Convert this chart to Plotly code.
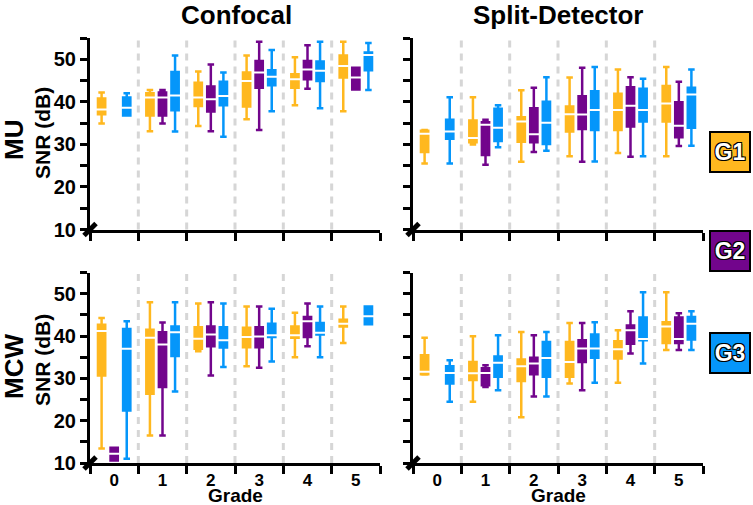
import plotly.graph_objects as go
from plotly.subplots import make_subplots

# grades on the x axis and the group names
grades = [0, 1, 2, 3, 4, 5]
groups = ["G1", "G2", "G3"]
group_colors = ["#FFB81F", "#72058C", "#0596FA"]

# box stats per grade: [lower whisker, q1, median, q3, upper whisker], None = no data
conf_mu_g1 = [[34.9, 37.1, 38.2, 40.8, 42.2], [33.1, 36.8, 41.0, 42.0, 42.8], [34.3, 39.0, 41.0, 44.5, 47.1],
              [35.9, 38.9, 44.9, 46.9, 50.9], [39.2, 43.3, 45.3, 46.5, 50.5], [37.8, 45.7, 48.4, 50.9, 54.1]]
conf_mu_g2 = [None, [34.9, 36.8, 41.0, 42.2, 42.8], [33.1, 37.7, 40.6, 43.6, 48.8],
              [33.4, 43.3, 46.9, 49.6, 54.1], [43.1, 45.3, 47.6, 49.6, 53.3], [42.9, 42.9, 45.7, 48.0, 48.0]]
conf_mu_g3 = [[36.8, 36.8, 38.6, 41.0, 42.0], [33.0, 38.0, 41.5, 47.0, 50.9], [31.8, 39.2, 41.4, 44.7, 46.9],
              [37.8, 43.9, 45.9, 47.4, 52.2], [38.5, 44.9, 47.3, 49.5, 54.1], [42.8, 47.4, 51.0, 51.6, 53.8]]

split_mu_g1 = [[25.5, 28.2, 32.5, 33.2, 33.4], [30.0, 30.5, 31.5, 35.6, 41.1], [25.9, 30.6, 35.4, 36.4, 42.7],
               [27.2, 33.0, 37.1, 38.9, 45.7], [28.0, 33.4, 38.1, 41.9, 47.6], [27.2, 35.4, 39.6, 43.7, 48.2]]
split_mu_g2 = [None, [25.2, 27.5, 34.6, 35.2, 35.8], [28.2, 30.5, 32.4, 38.5, 43.3],
               [25.9, 33.6, 37.0, 41.3, 48.0], [27.1, 34.2, 39.1, 43.4, 45.8], [29.6, 31.7, 34.4, 39.9, 44.7]]
split_mu_g3 = [[25.5, 31.3, 33.0, 35.8, 41.1], [29.3, 30.8, 33.9, 38.4, 39.2], [28.5, 30.1, 35.1, 40.0, 45.8],
               [26.0, 33.4, 38.1, 42.5, 48.2], [27.2, 35.4, 38.1, 43.1, 45.4], [29.7, 33.9, 41.7, 43.3, 47.6]]

conf_mcw_g1 = [[13.4, 30.7, 41.2, 42.7, 44.3], [16.5, 26.4, 39.6, 41.5, 48.0], [36.4, 37.0, 39.4, 42.1, 47.7],
               [32.9, 37.4, 39.8, 42.0, 47.0], [35.0, 39.6, 40.2, 42.3, 45.5], [38.4, 42.3, 42.9, 43.9, 47.0]]
conf_mcw_g2 = [[10.6, 10.6, 12.2, 13.6, 13.6], [16.5, 28.0, 38.0, 40.9, 43.2], [30.7, 37.6, 40.4, 42.3, 48.0],
               [32.5, 37.4, 39.9, 42.1, 47.0], [37.6, 39.8, 43.5, 44.5, 47.7], None]
conf_mcw_g3 = [[11.0, 22.4, 37.0, 41.7, 43.5], [26.9, 35.3, 40.9, 42.3, 48.0], [32.7, 37.3, 39.0, 42.1, 47.7],
               [34.0, 39.8, 40.2, 42.9, 46.5], [35.0, 40.4, 40.8, 43.1, 47.0], [42.8, 42.8, 44.7, 47.0, 47.0]]

split_mcw_g1 = [[30.9, 31.0, 31.6, 35.5, 39.6], [24.5, 29.6, 31.2, 33.9, 40.0], [20.8, 29.4, 32.9, 34.5, 41.0],
                [28.8, 30.4, 33.9, 38.6, 43.1], [29.0, 34.7, 36.9, 38.8, 41.4], [36.7, 38.4, 42.3, 43.3, 50.4]]
split_mcw_g2 = [None, [28.0, 28.4, 31.3, 32.4, 33.1], [25.7, 31.0, 33.5, 34.9, 40.2],
                [27.2, 33.9, 37.1, 39.0, 43.1], [35.9, 38.2, 41.4, 42.5, 45.9], [36.7, 38.4, 39.3, 44.4, 45.4]]
split_mcw_g3 = [[24.5, 28.8, 31.3, 32.9, 34.3], [27.2, 30.4, 33.7, 35.2, 40.2], [25.7, 30.4, 34.8, 38.6, 41.0],
                [29.0, 34.9, 37.1, 40.4, 43.3], [33.5, 39.0, 39.3, 44.4, 50.4], [36.7, 39.2, 42.9, 44.5, 45.9]]

panels = {
    (1, 1): [conf_mu_g1, conf_mu_g2, conf_mu_g3],
    (1, 2): [split_mu_g1, split_mu_g2, split_mu_g3],
    (2, 1): [conf_mcw_g1, conf_mcw_g2, conf_mcw_g3],
    (2, 2): [split_mcw_g1, split_mcw_g2, split_mcw_g3],
}

group_offsets = [-0.26, 0.0, 0.26]
separators = [0.5, 1.5, 2.5, 3.5, 4.5]
boundaries = [-0.5, 0.5, 1.5, 2.5, 3.5, 4.5, 5.5]
y_range = [10, 55]
FONT = "Liberation Sans, Arial, sans-serif"

fig = make_subplots(rows=2, cols=2)

for (row, col), series in panels.items():
    for gi, stats in enumerate(series):
        xs, lo, q1, med, q3, hi = [], [], [], [], [], []
        for g, s in zip(grades, stats):
            if s is None:
                continue
            xs.append(g + group_offsets[gi])
            lo.append(s[0]); q1.append(s[1]); med.append(s[2]); q3.append(s[3]); hi.append(s[4])
        color = group_colors[gi]
        fig.add_trace(
            go.Box(
                x=xs, lowerfence=lo, q1=q1, median=med, q3=q3, upperfence=hi,
                width=0.15, whiskerwidth=0.9,
                line=dict(color=color, width=2.5), fillcolor=color,
                boxpoints=False, showlegend=False, name=groups[gi],
            ),
            row=row, col=col,
        )
        # white median stripe
        fig.add_trace(
            go.Scatter(
                x=xs, y=med, mode="markers", showlegend=False, hoverinfo="skip",
                marker=dict(symbol="line-ew", size=10, color="white",
                            line=dict(color="white", width=2)),
            ),
            row=row, col=col,
        )
    # axis break mark at the origin
    fig.add_trace(
        go.Scatter(
            x=[boundaries[0]], y=[y_range[0]], mode="markers", showlegend=False,
            hoverinfo="skip", cliponaxis=False,
            marker=dict(symbol="line-ne", size=12, line=dict(color="black", width=5)),
        ),
        row=row, col=col,
    )
    for s in separators:
        fig.add_vline(x=s, row=row, col=col, layer="below",
                      line=dict(color="#D6D6D6", width=3, dash="7px,6px"))

W, H = 753, 505
x_dom = [[90 / W, 380 / W], [413 / W, 703 / W]]
y_dom = {1: [1 - 229.5 / H, 1 - 38 / H], 2: [1 - 463 / H, 1 - 272.7 / H]}

ytick_vals = [10, 15, 20, 25, 30, 35, 40, 45, 50, 55]
ytick_text = [str(v) if v % 10 == 0 and v < 55 else "" for v in ytick_vals]

for row in (1, 2):
    for col in (1, 2):
        fig.update_xaxes(
            row=row, col=col, domain=x_dom[col - 1], range=[-0.5, 5.5], automargin=False,
            showline=True, linecolor="black", linewidth=3, showgrid=False, zeroline=False,
            tickmode="array", tickvals=grades, ticktext=[str(g) for g in grades],
            ticks="", showticklabels=(row == 2), ticklabelstandoff=0,
            tickfont=dict(family=FONT, size=17, color="black", weight="bold"),
            minor=dict(tickmode="array", tickvals=boundaries, ticks="outside",
                       ticklen=8, tickwidth=3, tickcolor="black", showgrid=False),
        )
        fig.update_yaxes(
            row=row, col=col, domain=y_dom[row], range=y_range, automargin=False,
            showline=True, linecolor="black", linewidth=3, showgrid=False, zeroline=False,
            tickmode="array", tickvals=ytick_vals, ticktext=ytick_text,
            ticks="outside", ticklen=7, tickwidth=3, tickcolor="black",
            showticklabels=(col == 1),
            tickfont=dict(family=FONT, size=20, color="black", weight="bold"),
        )

annotations = [
    dict(text="Confocal", x=236 / W, y=1 - 15 / H, font=dict(size=26)),
    dict(text="Split-Detector", x=558 / W, y=1 - 15 / H, font=dict(size=26)),
    dict(text="MU", x=14 / W, y=1 - 140 / H, textangle=-90, font=dict(size=26)),
    dict(text="SNR (dB)", x=42 / W, y=1 - 133 / H, textangle=-90, font=dict(size=21)),
    dict(text="MCW", x=14 / W, y=1 - 367 / H, textangle=-90, font=dict(size=26)),
    dict(text="SNR (dB)", x=42 / W, y=1 - 360 / H, textangle=-90, font=dict(size=21)),
]
for a in annotations:
    a.update(xref="paper", yref="paper", showarrow=False, xanchor="center", yanchor="middle")
    a["font"].update(family=FONT, color="black", weight="bold")
    fig.add_annotation(**a)

# x axis titles sit right at the bottom edge
for xc in (235, 558):
    fig.add_annotation(
        text="Grade", x=xc / W, y=0, xref="paper", yref="paper", showarrow=False,
        xanchor="center", yanchor="bottom", borderpad=0, yshift=-2,
        font=dict(family=FONT, size=19, color="black", weight="bold"),
    )

# group key boxes on the right
outline = "-1px -1px 0 #000, 1px -1px 0 #000, -1px 1px 0 #000, 1px 1px 0 #000"
for name, color, yc in zip(groups, group_colors, [152, 251, 353]):
    fig.add_annotation(
        text=name, x=730 / W, y=1 - yc / H, xref="paper", yref="paper",
        showarrow=False, xanchor="center", yanchor="middle",
        width=36, height=36, bgcolor=color, bordercolor="black", borderwidth=2, borderpad=1,
        font=dict(family=FONT, size=23, color="white", weight="bold", shadow=outline),
    )

fig.update_layout(
    template="none",
    width=W, height=H, margin=dict(l=0, r=0, t=0, b=0, autoexpand=False),
    plot_bgcolor="white", paper_bgcolor="white",
    boxmode="overlay", showlegend=False,
)

# the page body has a default 8px margin; drop it so the figure fills the window
fig.write_html(
    "out.html",
    config={"displayModeBar": False},
    post_script="document.body.style.margin='0';document.body.style.overflow='hidden';",
)
